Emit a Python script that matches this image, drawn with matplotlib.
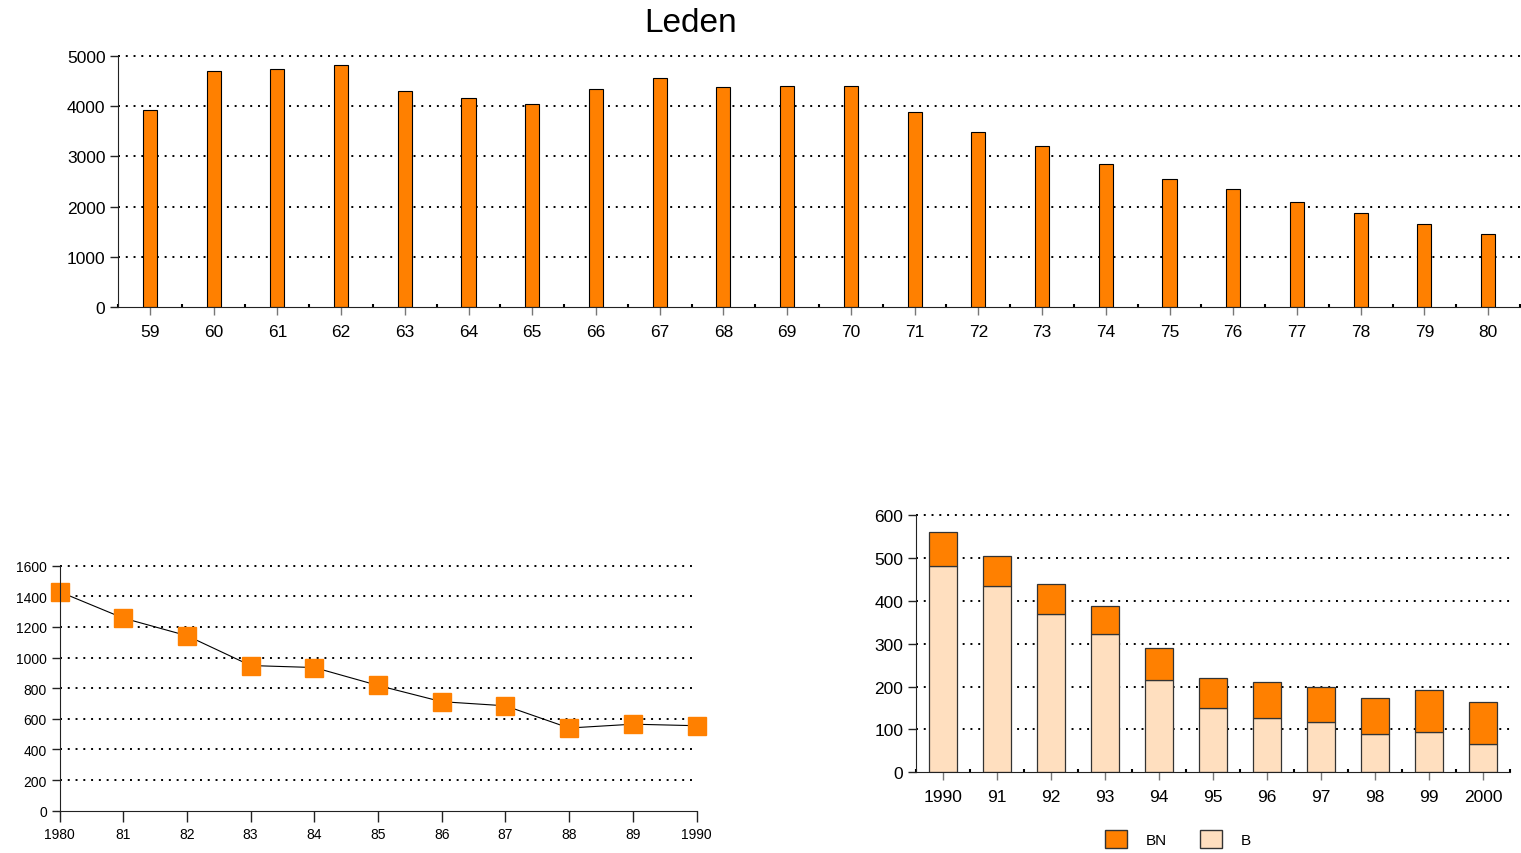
import matplotlib.pyplot as plt
from matplotlib.patches import Patch
from matplotlib.ticker import MultipleLocator

plt.rcParams['font.family'] = ['Liberation Sans', 'DejaVu Sans']

ORANGE = '#ff8000'
PEACH = '#ffdfbf'

# leden 1959-1980
years_top = ['59', '60', '61', '62', '63', '64', '65', '66', '67', '68', '69',
             '70', '71', '72', '73', '74', '75', '76', '77', '78', '79', '80']
leden_top = [3925, 4710, 4750, 4820, 4305, 4155, 4035, 4340, 4555, 4375, 4410,
             4410, 3885, 3480, 3210, 2845, 2545, 2355, 2095, 1875, 1650, 1460]

# leden 1980-1990
years_line = ['1980', '81', '82', '83', '84', '85', '86', '87', '88', '89', '1990']
leden_line = [1430, 1258, 1143, 948, 935, 818, 712, 685, 540, 565, 555]

# 1990-2000, B en BN
years_bar = ['1990', '91', '92', '93', '94', '95', '96', '97', '98', '99', '2000']
b_vals = [480, 434, 368, 323, 215, 150, 127, 118, 90, 95, 67]
bn_vals = [80, 71, 70, 64, 75, 70, 83, 82, 83, 97, 96]

dotted = (0, (1, 3))


def style_axes(ax, fs):
    ax.spines['top'].set_visible(False)
    ax.spines['right'].set_visible(False)
    ax.spines['left'].set_color('#222222')
    ax.spines['bottom'].set_color('#222222')
    ax.tick_params(axis='y', length=6, width=1, color='#222222', labelsize=fs, pad=3)
    ax.tick_params(axis='x', length=6, width=1, color='#777777', labelsize=fs, pad=6)
    ax.set_axisbelow(True)
    ax.yaxis.grid(True, color='black', linestyle=dotted, linewidth=1.4)
    # no dotted line over the zero axis, and keep the top one unclipped
    gl = ax.get_ygridlines()
    gl[0].set_visible(False)
    for g in gl:
        g.set_clip_on(False)


fig = plt.figure(figsize=(15.21, 8.54), dpi=100)

fig.text(691 / 1521, 1 - 23 / 854, 'Leden', ha='center', va='center', fontsize=24)

# top chart
ax1 = fig.add_axes([118 / 1521, 1 - 308 / 854, 1402 / 1521, 251 / 854])
x1 = range(len(years_top))
ax1.bar(x1, leden_top, width=0.22, color=ORANGE, edgecolor='black', linewidth=0.8)
ax1.set_xlim(-0.5, len(years_top) - 0.5)
ax1.set_ylim(0, 5000)
ax1.set_yticks([0, 1000, 2000, 3000, 4000, 5000])
ax1.set_xticks(list(x1))
ax1.set_xticklabels(years_top)
ax1.xaxis.set_minor_locator(MultipleLocator(1, offset=0.5))
ax1.tick_params(axis='x', which='minor', length=2, width=1.5, direction='in', color='black')
style_axes(ax1, 12.5)

# bottom left line chart
ax2 = fig.add_axes([59.5 / 1521, 1 - 811.7 / 854, 637 / 1521, 245 / 854])
x2 = range(len(years_line))
ax2.plot(x2, leden_line, color='black', linewidth=0.8, marker='s', markersize=13,
         markerfacecolor=ORANGE, markeredgecolor=ORANGE, clip_on=False)
ax2.set_xlim(0, len(years_line) - 1)
ax2.set_ylim(0, 1600)
ax2.set_yticks(range(0, 1601, 200))
ax2.set_xticks(list(x2))
ax2.set_xticklabels(years_line)
style_axes(ax2, 10)
ax2.tick_params(axis='x', color='#222222', length=8, pad=4)

# bottom right stacked bars
ax3 = fig.add_axes([915.7 / 1521, 1 - 773.3 / 854, 594.3 / 1521, 257.3 / 854])
x3 = range(len(years_bar))
ax3.bar(x3, b_vals, width=0.52, color=PEACH, edgecolor='#333333', linewidth=0.9)
ax3.bar(x3, bn_vals, width=0.52, bottom=b_vals, color=ORANGE, edgecolor='#333333', linewidth=0.9)
ax3.set_xlim(-0.5, len(years_bar) - 0.5)
ax3.set_ylim(0, 600)
ax3.set_yticks(range(0, 601, 100))
ax3.set_xticks(list(x3))
ax3.set_xticklabels(years_bar)
ax3.xaxis.set_minor_locator(MultipleLocator(1, offset=0.5))
ax3.tick_params(axis='x', which='minor', length=2, width=1.5, direction='in', color='black')
style_axes(ax3, 12.5)

handles = [Patch(facecolor=ORANGE, edgecolor='#333333', label='BN'),
           Patch(facecolor=PEACH, edgecolor='#333333', label='B')]
fig.legend(handles=handles, loc='center', bbox_to_anchor=(1178 / 1521, 1 - 840 / 854),
           ncol=2, frameon=False, fontsize=11, handlelength=1.45, handleheight=1.45,
           handletextpad=1.2, columnspacing=2.2)

plt.savefig('out.png', dpi=100)
